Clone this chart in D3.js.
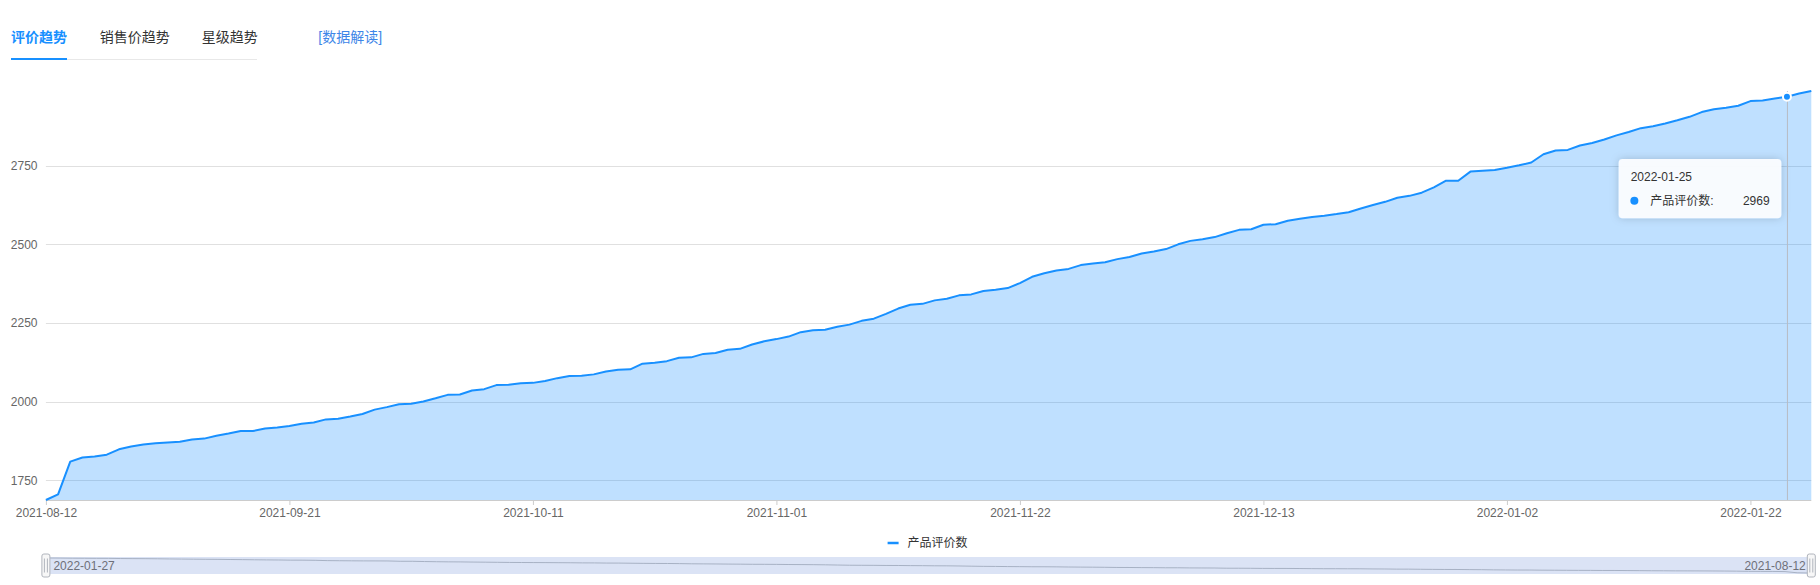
<!DOCTYPE html>
<html><head><meta charset="utf-8">
<script src="https://cdn.jsdelivr.net/npm/d3@7"></script>
<style>
body{margin:0;background:#fff;}
svg{display:block;font-family:"Liberation Sans","Noto Sans CJK SC",sans-serif;}
</style></head><body>
<svg id="chart" width="1820" height="585"></svg>
<script>
const dates = [
'2021-08-12','2021-08-14','2021-08-16','2021-08-18','2021-08-20','2021-08-22','2021-08-24','2021-08-26','2021-08-28','2021-08-30',
'2021-09-01','2021-09-03','2021-09-05','2021-09-07','2021-09-09','2021-09-11','2021-09-13','2021-09-15','2021-09-17','2021-09-19',
'2021-09-21','2021-09-22','2021-09-23','2021-09-24','2021-09-25','2021-09-26','2021-09-27','2021-09-28','2021-09-29','2021-09-30',
'2021-10-01','2021-10-02','2021-10-03','2021-10-04','2021-10-05','2021-10-06','2021-10-07','2021-10-08','2021-10-09','2021-10-10',
'2021-10-11','2021-10-12','2021-10-13','2021-10-14','2021-10-15','2021-10-16','2021-10-17','2021-10-18','2021-10-19','2021-10-21',
'2021-10-22','2021-10-23','2021-10-24','2021-10-25','2021-10-26','2021-10-27','2021-10-28','2021-10-29','2021-10-30','2021-10-31',
'2021-11-01','2021-11-02','2021-11-03','2021-11-04','2021-11-05','2021-11-06','2021-11-07','2021-11-08','2021-11-09','2021-11-10',
'2021-11-12','2021-11-13','2021-11-14','2021-11-15','2021-11-16','2021-11-17','2021-11-18','2021-11-19','2021-11-20','2021-11-21',
'2021-11-22','2021-11-23','2021-11-24','2021-11-25','2021-11-26','2021-11-27','2021-11-28','2021-11-29','2021-11-30','2021-12-02',
'2021-12-03','2021-12-04','2021-12-05','2021-12-06','2021-12-07','2021-12-08','2021-12-09','2021-12-10','2021-12-11','2021-12-12',
'2021-12-13','2021-12-14','2021-12-15','2021-12-16','2021-12-17','2021-12-18','2021-12-19','2021-12-20','2021-12-21','2021-12-22',
'2021-12-23','2021-12-24','2021-12-25','2021-12-26','2021-12-27','2021-12-28','2021-12-29','2021-12-30','2021-12-31','2022-01-01',
'2022-01-02','2022-01-03','2022-01-04','2022-01-05','2022-01-06','2022-01-07','2022-01-08','2022-01-09','2022-01-10','2022-01-11',
'2022-01-12','2022-01-13','2022-01-14','2022-01-15','2022-01-16','2022-01-17','2022-01-18','2022-01-19','2022-01-20','2022-01-21',
'2022-01-22','2022-01-23','2022-01-24','2022-01-25','2022-01-26','2022-01-27'
];
const reviewCounts = [
1688,1706,1810,1823,1826,1832,1849,1858,1864,1868,
1871,1873,1880,1883,1892,1899,1907,1907,1915,1918,
1923,1930,1934,1944,1946,1953,1961,1975,1983,1992,
1994,2001,2011,2022,2023,2036,2040,2053,2054,2059,
2060,2066,2075,2082,2083,2087,2096,2102,2103,2121,
2124,2129,2140,2141,2152,2155,2165,2168,2182,2192,
2199,2207,2221,2227,2229,2238,2245,2257,2264,2279,
2296,2308,2311,2322,2327,2338,2341,2352,2356,2361,
2377,2397,2408,2417,2422,2434,2439,2443,2453,2460,
2471,2477,2485,2500,2511,2516,2523,2535,2546,2548,
2562,2564,2575,2581,2587,2591,2596,2602,2614,2625,
2635,2648,2654,2664,2681,2702,2702,2731,2734,2736,
2743,2751,2760,2786,2798,2800,2814,2822,2833,2846,
2857,2869,2875,2884,2894,2905,2920,2929,2934,2940,
2955,2957,2963,2969,2979,2987
];
const yTickValues = [1750, 2000, 2250, 2500, 2750];
const xTickLabels = ['2021-08-12','2021-09-21','2021-10-11','2021-11-01','2021-11-22','2021-12-13','2022-01-02','2022-01-22'];
const tabLabels = ['评价趋势', '销售价趋势', '星级趋势'];
const linkLabel = '[数据解读]';
const seriesName = '产品评价数';
const hoverDate = '2022-01-25';

(function draw() {
const data = dates.map((d, i) => ({date: d, v: reviewCounts[i]}));
const svg = d3.select('#chart');
const pLeft = 45.9, pRight = 1811.3, pTop = 91, pBottom = 500;
const blue = '#1890ff';

// ---- tabs ----
const tabX = [11, 99.7, 201.7];
svg.append('line').attr('x1', 11).attr('x2', 257).attr('y1', 59.5).attr('y2', 59.5)
  .attr('stroke', '#e8e8e8').attr('stroke-width', 1);
svg.selectAll('.tab').data(tabLabels).enter().append('text')
  .attr('x', (d, i) => tabX[i]).attr('y', 37.5).attr('dy', '0.35em')
  .attr('font-size', 14)
  .attr('font-weight', (d, i) => i === 0 ? 600 : 400)
  .attr('fill', (d, i) => i === 0 ? blue : '#333')
  .text(d => d);
svg.append('rect').attr('x', 11).attr('y', 58).attr('width', 56).attr('height', 2).attr('fill', blue);
svg.append('text').attr('x', 318.3).attr('y', 37.5).attr('dy', '0.35em')
  .attr('font-size', 14).attr('fill', '#3e86e8').text(linkLabel);

// ---- scales ----
const x = d3.scalePoint().domain(dates).range([pLeft, pRight]);
const y = d3.scaleLinear().domain(d3.extent(reviewCounts)).range([pBottom, pTop]);

// grid
svg.append('g').selectAll('line').data(yTickValues).enter().append('line')
  .attr('x1', pLeft).attr('x2', pRight)
  .attr('y1', d => Math.round(y(d)) + 0.5).attr('y2', d => Math.round(y(d)) + 0.5)
  .attr('stroke', '#e0e0e0').attr('stroke-width', 1);
// y labels
svg.append('g').selectAll('text').data(yTickValues).enter().append('text')
  .attr('x', 37.5).attr('y', d => y(d)).attr('dy', '0.35em')
  .attr('text-anchor', 'end').attr('font-size', 12).attr('fill', '#666')
  .text(d => d);

// x axis
svg.append('line').attr('x1', pLeft).attr('x2', pRight).attr('y1', pBottom + 0.5).attr('y2', pBottom + 0.5)
  .attr('stroke', '#ccc');
const xAxis = d3.axisBottom(x).tickValues(xTickLabels).tickSize(5).tickPadding(3);
const gx = svg.append('g').attr('transform', `translate(0,${pBottom})`).call(xAxis);
gx.select('.domain').remove();
gx.selectAll('.tick line').attr('stroke', '#ccc');
gx.selectAll('.tick text').attr('font-size', 12).attr('fill', '#666')
  .attr('font-family', '"Liberation Sans",sans-serif');

// area + line
svg.append('path').datum(data)
  .attr('d', d3.area().x(d => x(d.date)).y0(pBottom).y1(d => y(d.v)))
  .attr('fill', blue).attr('fill-opacity', 0.28);
svg.append('path').datum(data)
  .attr('d', d3.line().x(d => x(d.date)).y(d => y(d.v)))
  .attr('fill', 'none').attr('stroke', blue).attr('stroke-width', 2)
  .attr('stroke-linejoin', 'round');

// hover
const hv = data.find(d => d.date === hoverDate);
const hx = x(hv.date), hy = y(hv.v);
svg.append('line').attr('x1', hx + 0.5).attr('x2', hx + 0.5).attr('y1', pTop).attr('y2', pBottom)
  .attr('stroke', '#b8bcc4').attr('stroke-width', 1);
svg.append('circle').attr('cx', hx).attr('cy', hy).attr('r', 4)
  .attr('fill', blue).attr('stroke', '#fff').attr('stroke-width', 2);

// tooltip
const defs = svg.append('defs');
const f = defs.append('filter').attr('id', 'sh').attr('x', '-20%').attr('y', '-30%').attr('width', '140%').attr('height', '160%');
f.append('feDropShadow').attr('dx', 0).attr('dy', 0).attr('stdDeviation', 4)
  .attr('flood-color', '#000').attr('flood-opacity', 0.18);
const tx = hx - 168.3, ty = hy + 62.3;
const tt = svg.append('g').attr('transform', `translate(${tx},${ty})`);
tt.append('rect').attr('width', 162.7).attr('height', 59.3).attr('rx', 4)
  .attr('fill', '#fcfdff').attr('fill-opacity', 0.95).attr('filter', 'url(#sh)');
tt.append('text').attr('x', 12).attr('y', 18).attr('dy', '0.35em')
  .attr('font-size', 12).attr('fill', '#333').text(hv.date);
tt.append('circle').attr('cx', 15.7).attr('cy', 41.7).attr('r', 4).attr('fill', blue);
tt.append('text').attr('x', 31.7).attr('y', 41.7).attr('dy', '0.35em')
  .attr('font-size', 12).attr('fill', '#333').text(seriesName + ':');
tt.append('text').attr('x', 151).attr('y', 41.7).attr('dy', '0.35em').attr('text-anchor', 'end')
  .attr('font-size', 12).attr('fill', '#333').text(hv.v);

// legend
const legCx = (pLeft + pRight) / 2;
const lg = svg.append('g').attr('transform', `translate(${legCx - 40},543)`);
lg.append('line').attr('x1', -1).attr('x2', 10).attr('y1', 0).attr('y2', 0)
  .attr('stroke', blue).attr('stroke-width', 2.5);
lg.append('text').attr('x', 19).attr('y', 0).attr('dy', '0.35em')
  .attr('font-size', 12).attr('fill', '#333').text(seriesName);

// slider (dataZoom)
const sTop = 557, sBot = 574;
svg.append('rect').attr('x', pLeft).attr('y', sTop).attr('width', pRight - pLeft).attr('height', sBot - sTop)
  .attr('fill', '#dbe3f5');
const xs = d3.scalePoint().domain(dates.slice().reverse()).range([pLeft + 2, pRight - 2]);
const ys = d3.scaleLinear().domain(d3.extent(reviewCounts)).range([sBot - 1, sTop + 1]);
svg.append('path').datum(data)
  .attr('d', d3.line().x(d => xs(d.date)).y(d => ys(d.v)))
  .attr('fill', 'none').attr('stroke', '#9ea8bb').attr('stroke-width', 1).attr('stroke-opacity', 0.85);
[pLeft, pRight].forEach(hxh => {
  const g = svg.append('g').attr('transform', `translate(${hxh},565.5)`);
  g.append('rect').attr('x', -4).attr('y', -11.5).attr('width', 8).attr('height', 23).attr('rx', 2)
    .attr('fill', '#f7f7f7').attr('stroke', '#b0b4bc').attr('stroke-width', 1);
  g.append('line').attr('x1', -1.5).attr('x2', -1.5).attr('y1', -7).attr('y2', 7).attr('stroke', '#b0b4bc');
  g.append('line').attr('x1', 1.5).attr('x2', 1.5).attr('y1', -7).attr('y2', 7).attr('stroke', '#b0b4bc');
});
svg.append('text').attr('x', pLeft + 7.5).attr('y', 565.5).attr('dy', '0.35em')
  .attr('font-size', 12).attr('fill', '#6e7079').text(dates[dates.length - 1]);
svg.append('text').attr('x', pRight - 5.5).attr('y', 565.5).attr('dy', '0.35em').attr('text-anchor', 'end')
  .attr('font-size', 12).attr('fill', '#6e7079').text(dates[0]);
})();
</script>
</body></html>
